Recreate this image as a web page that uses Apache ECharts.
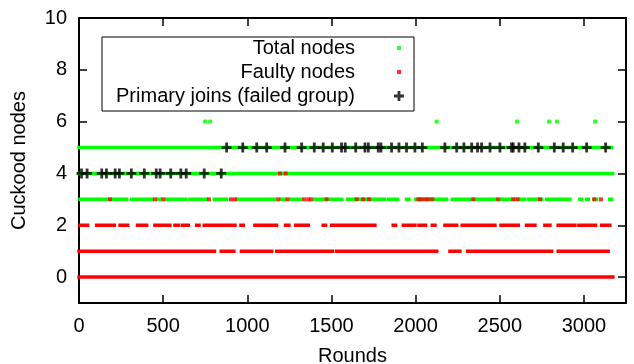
<!DOCTYPE html>
<html>
<head>
<meta charset="utf-8">
<script src="https://cdn.jsdelivr.net/npm/echarts@6/dist/echarts.min.js"></script>
<style>
  html, body { margin: 0; padding: 0; background: #fff; }
  #main { width: 634px; height: 364px; }
</style>
</head>
<body>
<div id="main"></div>
<script>
// tick values
const xTicks = [0, 500, 1000, 1500, 2000, 2500, 3000];
const yTicks = [0, 2, 4, 6, 8, 10];

// Total nodes: runs of rounds [from, to] per count value
const totalRuns3 = [
  [6, 71], [91, 174], [190, 283], [313, 435], [467, 487], [521, 634], [659, 673],
  [693, 725], [738, 758], [804, 877], [936, 950], [966, 1061], [1075, 1105],
  [1125, 1164], [1200, 1224], [1259, 1322], [1398, 1465], [1485, 1560],
  [1596, 1640], [1659, 1699], [1719, 1739], [1758, 1778], [1794, 1814], [1838, 1893],
  [1946, 1960], [2000, 2115], [2125, 2155], [2174, 2184], [2218, 2333], [2352, 2392],
  [2408, 2481], [2511, 2550], [2570, 2594], [2610, 2649], [2673, 2748], [2778, 2792],
  [2808, 2828], [2847, 2887], [2903, 2917], [2976, 2986], [3016, 3026], [3061, 3075],
  [3154, 3164]
];
const totalRuns4 = [[0, 3170]];
const totalRuns5 = [[0, 3164]];
const totalDots6 = [749, 779, 2125, 2602, 2792, 2840, 3066];

// Faulty nodes
const faultyRuns0 = [[0, 3172]];
const faultyRuns1 = [
  [0, 300], [320, 480], [500, 670], [685, 775], [790, 805], [845, 920], [965, 1145],
  [1175, 1505], [1530, 1788], [1808, 1956], [1966, 2125], [2204, 2263], [2309, 2343],
  [2362, 2630], [2640, 2808], [2847, 3144]
];
const faultyRuns2 = [
  [6, 51], [105, 125], [144, 210], [244, 289], [348, 362], [372, 402], [451, 540],
  [570, 590], [614, 649], [699, 713], [744, 927], [962, 976], [1045, 1065], [1085, 1174],
  [1227, 1247], [1287, 1362], [1451, 1465], [1501, 1610], [1620, 1709], [1729, 1758],
  [1867, 1881], [1927, 1996], [2020, 2059], [2099, 2115], [2174, 2244], [2277, 2471],
  [2507, 2580], [2594, 2610], [2659, 2709], [2768, 2798], [2847, 2946], [2970, 3069],
  [3105, 3154]
];
const faultyDots3 = [184, 451, 501, 772, 903, 927, 1184, 1239, 1338, 1362, 1378, 1471,
  1650, 1689, 1723, 2016, 2032, 2055, 2075, 2099, 2343, 2491, 2580, 2606, 2739, 3061, 3101];
const faultyDots4 = [1194, 1228];

// Primary joins (failed group)
const joins4 = [15, 48, 135, 163, 215, 240, 311, 388, 459, 482, 545, 605, 637, 744, 845];
const joins5 = [877, 973, 1056, 1115, 1224, 1323, 1398, 1451, 1505, 1560, 1582, 1644,
  1699, 1719, 1778, 1794, 1857, 1901, 1946, 1996, 2040, 2174, 2244, 2287, 2333, 2368,
  2392, 2442, 2501, 2570, 2580, 2614, 2649, 2729, 2824, 2877, 2933, 3016, 3129];

const GREEN = '#00ff00';
const RED = '#ff0000';
const plusPath = 'path://M3.6,0H6.4V3.6H10V6.4H6.4V10H3.6V6.4H0V3.6H3.6Z';

// runs -> line data with breaks between runs
function runsData(runs, y) {
  const out = [];
  runs.forEach(r => {
    out.push([r[0], y], [r[1], y], [r[1], null]);
  });
  return out;
}
function runSeries(name, color, runs, y) {
  return {
    name: name,
    type: 'line',
    data: runsData(runs, y),
    showSymbol: false,
    connectNulls: false,
    color: color,
    lineStyle: { color: color, width: 3.5, cap: 'square' },
    z: 2,
    silent: true
  };
}
function dotSeries(name, color, xs, y, z) {
  return {
    name: name,
    type: 'scatter',
    data: xs.map(x => [x, y]),
    symbol: 'rect',
    symbolSize: 4,
    itemStyle: { color: color },
    z: z,
    silent: true
  };
}

const font = 'Liberation Sans';
const plain = v => String(v);

const option = {
  animation: false,
  textStyle: { fontFamily: font, color: '#000' },
  grid: { left: 79, right: 8, top: 18, bottom: 61, outerBoundsMode: 'none' },
  legend: [
    {
      data: [{ name: 'Total nodes', icon: 'rect' }],
      orient: 'vertical', align: 'right', right: 233, top: 38, padding: 0,
      itemWidth: 4, itemHeight: 4, selectedMode: false,
      textStyle: { fontSize: 20, color: '#000', fontFamily: font, padding: [0, 37, 0, 0] }
    },
    {
      data: [{ name: 'Faulty nodes', icon: 'rect' }],
      orient: 'vertical', align: 'right', right: 233, top: 62, padding: 0,
      itemWidth: 4, itemHeight: 4, selectedMode: false,
      textStyle: { fontSize: 20, color: '#000', fontFamily: font, padding: [0, 37, 0, 0] }
    },
    {
      data: [{ name: 'Primary joins (failed group)', icon: plusPath }],
      orient: 'vertical', align: 'right', right: 230, top: 86, padding: 0,
      itemWidth: 10, itemHeight: 10, selectedMode: false,
      textStyle: { fontSize: 20, color: '#000', fontFamily: font, padding: [0, 34, 0, 0] }
    }
  ],
  graphic: [{
    type: 'rect',
    shape: { x: 102, y: 37, width: 312, height: 74 },
    style: { fill: 'none', stroke: '#000', lineWidth: 1 },
    z: 100
  }],
  xAxis: [
    {
      type: 'value', min: 0, max: 3250,
      name: 'Rounds', nameLocation: 'middle', nameGap: 43,
      nameTextStyle: { fontSize: 20, color: '#000', fontFamily: font },
      axisLine: { onZero: false, lineStyle: { color: '#000', width: 2 } },
      axisTick: { inside: true, length: 8, customValues: xTicks, lineStyle: { color: '#000', width: 1.5 } },
      axisLabel: { customValues: xTicks, formatter: plain, fontSize: 20, color: '#000', margin: 13, fontFamily: font },
      splitLine: { show: false }
    },
    {
      type: 'value', min: 0, max: 3250, position: 'top',
      axisLine: { onZero: false, lineStyle: { color: '#000', width: 2 } },
      axisTick: { inside: true, length: 8, customValues: xTicks, lineStyle: { color: '#000', width: 1.5 } },
      axisLabel: { show: false },
      splitLine: { show: false }
    }
  ],
  yAxis: [
    {
      type: 'value', min: -1, max: 10,
      name: 'Cuckood nodes', nameLocation: 'middle', nameGap: 50,
      nameTextStyle: { fontSize: 20, color: '#000', fontFamily: font },
      axisLine: { show: true, onZero: false, lineStyle: { color: '#000', width: 2 } },
      axisTick: { show: true, inside: true, length: 8, customValues: yTicks, lineStyle: { color: '#000', width: 1.5 } },
      axisLabel: { customValues: yTicks, formatter: plain, fontSize: 20, color: '#000', margin: 12, fontFamily: font },
      splitLine: { show: false }
    },
    {
      type: 'value', min: -1, max: 10, position: 'right',
      axisLine: { show: true, onZero: false, lineStyle: { color: '#000', width: 2 } },
      axisTick: { show: true, inside: true, length: 8, customValues: yTicks, lineStyle: { color: '#000', width: 1.5 } },
      axisLabel: { show: false },
      splitLine: { show: false }
    }
  ],
  series: [
    dotSeries('Total nodes', GREEN, totalDots6, 6, 2),
    runSeries('Total nodes', GREEN, totalRuns3, 3),
    runSeries('Total nodes', GREEN, totalRuns4, 4),
    runSeries('Total nodes', GREEN, totalRuns5, 5),
    dotSeries('Faulty nodes', RED, faultyDots3, 3, 3),
    dotSeries('Faulty nodes', RED, faultyDots4, 4, 3),
    runSeries('Faulty nodes', RED, faultyRuns0, 0),
    runSeries('Faulty nodes', RED, faultyRuns1, 1),
    runSeries('Faulty nodes', RED, faultyRuns2, 2),
    {
      name: 'Primary joins (failed group)',
      type: 'scatter',
      data: joins4.map(x => [x, 4]).concat(joins5.map(x => [x, 5])),
      symbol: plusPath,
      symbolSize: 10,
      itemStyle: { color: '#000' },
      z: 4,
      silent: true
    }
  ]
};

const myChart = echarts.init(document.getElementById('main'));
myChart.setOption(option);
</script>
</body>
</html>
